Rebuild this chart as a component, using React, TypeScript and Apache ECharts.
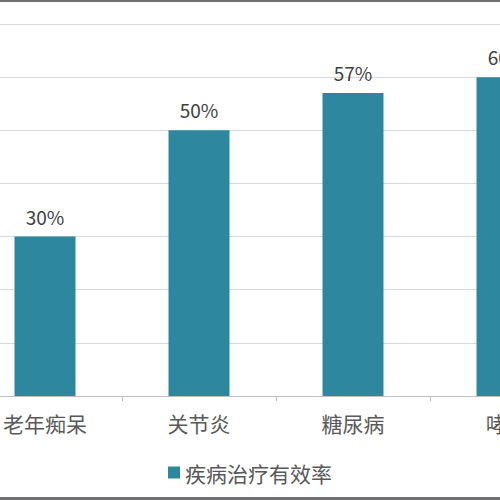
import { useEffect, useRef } from 'react'
import * as echarts from 'echarts'

const categories = ['老年痴呆', '关节炎', '糖尿病', '哮喘']
const seriesName = '疾病治疗有效率'
const rates = [30, 50, 57, 60]

const FONT = '"Noto Sans CJK SC", "Noto Sans", sans-serif'

export default function App() {
  const chartRef = useRef<HTMLDivElement>(null)

  useEffect(() => {
    if (!chartRef.current) return
    const chart = echarts.init(chartRef.current, undefined, { renderer: 'svg' })

    const option: any = {
      animation: false,
      backgroundColor: '#ffffff',
      textStyle: { fontFamily: FONT },
      grid: {
        left: 0,
        right: 0,
        top: 24,
        bottom: 104,
        containLabel: false
      },
      legend: {
        data: [seriesName],
        left: 195,
        top: 457,
        icon: 'rect',
        itemWidth: 12,
        itemHeight: 12,
        itemGap: 8,
        textStyle: {
          fontSize: 21,
          color: '#595959',
          fontFamily: FONT
        }
      },
      xAxis: {
        type: 'category',
        data: categories,
        axisLine: {
          lineStyle: { color: '#c0c0c0', width: 1 }
        },
        axisTick: {
          show: true,
          alignWithLabel: false,
          length: 5,
          lineStyle: { color: '#c0c0c0' }
        },
        axisLabel: {
          fontSize: 21,
          color: '#595959',
          margin: 16,
          fontFamily: FONT
        }
      },
      yAxis: {
        type: 'value',
        min: 0,
        max: 70,
        interval: 10,
        axisLine: { show: false },
        axisTick: { show: false },
        axisLabel: { show: false },
        splitLine: {
          lineStyle: { color: '#dadada', width: 1 }
        }
      },
      series: [
        {
          name: seriesName,
          type: 'bar',
          barWidth: 61,
          data: rates,
          itemStyle: { color: '#2d889f' },
          label: {
            show: true,
            position: 'top',
            distance: 11,
            formatter: '{c}%',
            fontSize: 19,
            color: '#404040',
            fontFamily: FONT
          }
        }
      ],
      graphic: [
        {
          type: 'rect',
          left: 0,
          top: 0,
          shape: { width: 616, height: 2 },
          style: { fill: '#6f6f74' }
        },
        {
          type: 'rect',
          left: 0,
          top: 497,
          shape: { width: 616, height: 3 },
          style: { fill: '#6f6f74' }
        }
      ]
    }

    chart.setOption(option)

    return () => {
      chart.dispose()
    }
  }, [])

  return (
    <div
      style={{
        position: 'fixed',
        top: 0,
        left: 0,
        width: 500,
        height: 500,
        overflow: 'hidden',
        background: '#fff'
      }}
    >
      <div
        ref={chartRef}
        style={{
          position: 'absolute',
          top: 0,
          left: -32,
          width: 616,
          height: 500
        }}
      />
    </div>
  )
}
